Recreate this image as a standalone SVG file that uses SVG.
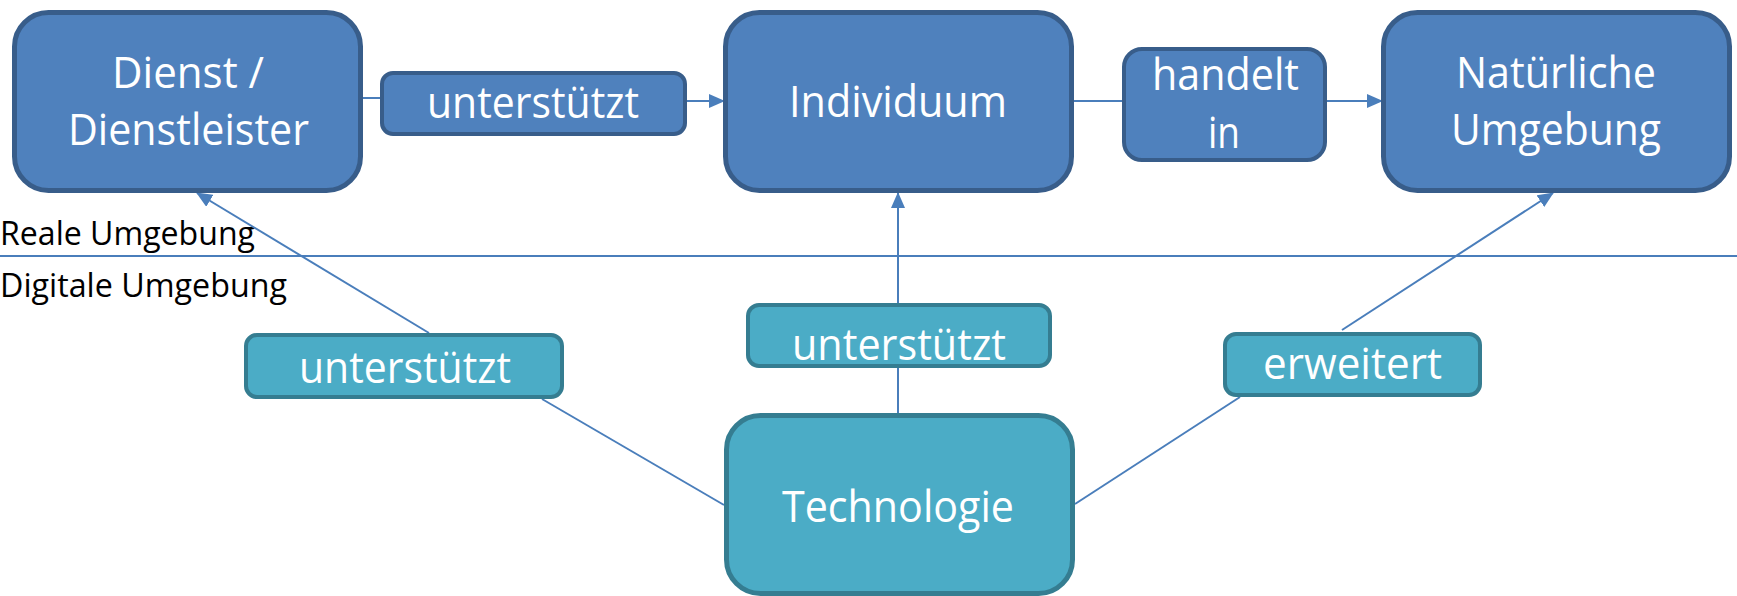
<svg xmlns="http://www.w3.org/2000/svg" width="1737" height="596" viewBox="0 0 1737 596">
<style>
.dark rect{fill:#4f81bd;stroke:#385d8a;stroke-width:5}
.light rect{fill:#4bacc6;stroke:#357d91;stroke-width:5}
.lbl rect{stroke-width:4}
text{font-family:"Open Sans","Liberation Sans",sans-serif}
.w{fill:#ffffff;font-size:43px;text-anchor:middle}
.b{fill:#000000;font-size:32px}
.conn line{stroke:#4a7ebb;stroke-width:2;fill:none}
</style>
<defs>
<marker id="arr" markerUnits="userSpaceOnUse" markerWidth="16" markerHeight="14" refX="15" refY="7" orient="auto">
<path d="M0,0 L16,7 L0,14 Z" fill="#4a7ebb"/>
</marker>
</defs>
<rect width="1737" height="596" fill="#ffffff"/>
<line x1="0" y1="256" x2="1737" y2="256" stroke="#4a7ebb" stroke-width="2"/>
<text class="b" x="0" y="245" textLength="255" lengthAdjust="spacingAndGlyphs">Reale Umgebung</text>
<text class="b" x="0" y="297" textLength="287" lengthAdjust="spacingAndGlyphs">Digitale Umgebung</text>
<g id="connectors" class="conn">
<line x1="363" y1="98" x2="382" y2="98"/>
<line x1="687" y1="101" x2="724" y2="101" marker-end="url(#arr)"/>
<line x1="1074" y1="101" x2="1124" y2="101"/>
<line x1="1327" y1="101" x2="1382" y2="101" marker-end="url(#arr)"/>
<line x1="898" y1="413" x2="898" y2="368"/>
<line x1="898" y1="303" x2="898" y2="193" marker-end="url(#arr)"/>
<line x1="724" y1="505" x2="542" y2="399"/>
<line x1="429" y1="333" x2="197" y2="193" marker-end="url(#arr)"/>
<line x1="1075" y1="504" x2="1240" y2="397"/>
<line x1="1342" y1="330" x2="1553" y2="193" marker-end="url(#arr)"/>
</g>
<g id="dienst" class="dark">
<rect x="14.5" y="12.5" width="346" height="178" rx="34"/>
<text class="w" x="188" y="88" textLength="152" lengthAdjust="spacingAndGlyphs">Dienst /</text>
<text class="w" x="188.5" y="145" textLength="241" lengthAdjust="spacingAndGlyphs">Dienstleister</text>
</g>
<g id="label-unterstuetzt-top" class="dark lbl">
<rect x="382" y="73" width="303" height="61" rx="11"/>
<text class="w" x="533" y="118" textLength="212" lengthAdjust="spacingAndGlyphs">unterstützt</text>
</g>
<g id="individuum" class="dark">
<rect x="725.5" y="12.5" width="346" height="178" rx="34"/>
<text class="w" x="898" y="117" textLength="218" lengthAdjust="spacingAndGlyphs">Individuum</text>
</g>
<g id="label-handelt-in" class="dark lbl">
<rect x="1124" y="49" width="201" height="111" rx="18"/>
<text class="w" x="1225.5" y="90" textLength="147" lengthAdjust="spacingAndGlyphs">handelt</text>
<text class="w" x="1224" y="148" textLength="32" lengthAdjust="spacingAndGlyphs">in</text>
</g>
<g id="natuerliche-umgebung" class="dark">
<rect x="1383.5" y="12.5" width="346" height="178" rx="34"/>
<text class="w" x="1556" y="88" textLength="200" lengthAdjust="spacingAndGlyphs">Natürliche</text>
<text class="w" x="1556" y="145" textLength="210" lengthAdjust="spacingAndGlyphs">Umgebung</text>
</g>
<g id="label-unterstuetzt-left" class="light lbl">
<rect x="246" y="335" width="316" height="62" rx="11"/>
<text class="w" x="405" y="383" textLength="212" lengthAdjust="spacingAndGlyphs">unterstützt</text>
</g>
<g id="label-unterstuetzt-mid" class="light lbl">
<rect x="748" y="305" width="302" height="61" rx="11"/>
<text class="w" x="899" y="360" textLength="214" lengthAdjust="spacingAndGlyphs">unterstützt</text>
</g>
<g id="label-erweitert" class="light lbl">
<rect x="1225" y="334" width="255" height="61" rx="11"/>
<text class="w" x="1352.5" y="379" textLength="179" lengthAdjust="spacingAndGlyphs">erweitert</text>
</g>
<g id="technologie" class="light">
<rect x="726.5" y="415.5" width="346" height="178" rx="34"/>
<text class="w" x="898" y="522" textLength="232" lengthAdjust="spacingAndGlyphs">Technologie</text>
</g>
</svg>
